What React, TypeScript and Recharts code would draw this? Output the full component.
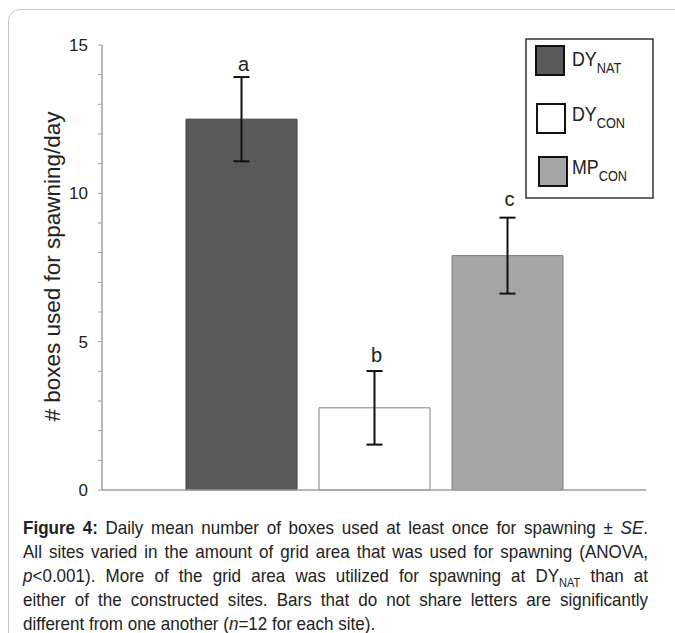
import React from "react";
import { BarChart, Bar, XAxis, YAxis, ErrorBar, LabelList, Legend, Label } from "recharts";

const siteMain = ["DY", "DY", "MP"];
const siteSub = ["NAT", "CON", "CON"];
const means = [12.5, 2.77, 7.9];
const ses = [1.42, 1.24, 1.28];
const letters = ["a", "b", "c"];
const yTicks = [0, 1, 2, 3, 4, 5, 6, 7, 8, 9, 10, 11, 12, 13, 14, 15];
const fills = ["#595959", "#ffffff", "#a6a6a6"];
const strokes = ["#404040", "#808080", "#7a7a7a"];

const row: Record<string, any> = { name: "sites" };
means.forEach((m, i) => {
  row["v" + i] = m;
  row["e" + i] = ses[i];
  row["l" + i] = letters[i];
});
const data = [row];

const FONT = "'Liberation Sans', Arial, sans-serif";

const letterGap = [6, 9, 12];

const renderLetter = (i: number) => (p: any) => {
  const { x, y, width, height, value } = p;
  const pxPerUnit = height / means[i];
  const top = y - ses[i] * pxPerUnit;
  return (
    <text x={x + width / 2 + 2} y={top - letterGap[i]} textAnchor="middle" fontSize={20} fontFamily={FONT} fill="#222">
      {value}
    </text>
  );
};

const swatchY = [8, 66, 119];
const swatchX = [11, 12, 14];
const textY = [28, 83, 136];

const LegendBox = (props: any) => {
  const payload = props.payload || [];
  return (
    <svg width={130} height={162} style={{ display: "block" }}>
      <rect x={1} y={1} width={127} height={159} fill="#fff" stroke="#333" strokeWidth={1.5} />
      {payload.map((entry: any, i: number) => (
        <g key={i}>
          <rect x={swatchX[i]} y={swatchY[i]} width={28} height={29} fill={fills[i]} stroke="#111" strokeWidth={2} />
          <text
            x={47}
            y={textY[i]}
            fontFamily={FONT}
            fill="#222"
            transform={`translate(47 0) scale(0.85 1) translate(-47 0)`}
          >
            <tspan fontSize={21}>{siteMain[i]}</tspan>
            <tspan fontSize={15} dy={7}>{siteSub[i]}</tspan>
          </text>
        </g>
      ))}
    </svg>
  );
};

const YLabel = (props: any) => {
  const vb = props.viewBox || { x: 0, y: 0, width: 0, height: 0 };
  const cx = 52;
  const cy = vb.y + vb.height / 2 - 1;
  return (
    <text
      x={cx}
      y={cy}
      transform={`rotate(-90, ${cx}, ${cy})`}
      textAnchor="middle"
      dominantBaseline="central"
      fontSize={22.5}
      fontFamily={FONT}
      fill="#222"
    >
      # boxes used for spawning/day
    </text>
  );
};

const SCALE = 0.92;
const lineStyle: React.CSSProperties = {
  textAlign: "justify",
  textAlignLast: "justify",
  whiteSpace: "nowrap",
  height: 24,
  lineHeight: "24px",
};

export default function App() {
  return (
    <div style={{ position: "absolute", left: 0, top: 0, width: 675, height: 633, overflow: "hidden", background: "#fff" }}>
      <div
        style={{
          position: "absolute",
          left: 8,
          top: 9,
          width: 720,
          height: 720,
          border: "1px solid #c4c4c4",
          borderRadius: 12,
          boxSizing: "border-box",
        }}
      />
      <div style={{ position: "absolute", left: 0, top: 0 }}>
        <BarChart
          width={675}
          height={500}
          data={data}
          margin={{ top: 45, right: 29, bottom: 0, left: 50 }}
          barSize={111}
          barGap={22}
        >
          <XAxis dataKey="name" tick={false} tickLine={false} axisLine={{ stroke: "#a0a0a0", strokeWidth: 1.5 }} height={10} />
          <YAxis
            domain={[0, 15]}
            ticks={yTicks}
            interval={0}
            width={52}
            tickSize={4}
            tickMargin={10}
            tickLine={{ stroke: "#a0a0a0" }}
            axisLine={{ stroke: "#a0a0a0", strokeWidth: 1.5 }}
            tickFormatter={(v: number) => (v % 5 === 0 ? String(v) : "")}
            tick={{ fontSize: 17, fontFamily: FONT, fill: "#222" }}
          >
            <Label content={<YLabel />} />
          </YAxis>
          <Legend
            layout="vertical"
            align="center"
            verticalAlign="middle"
            content={<LegendBox />}
            wrapperStyle={{ left: 525, top: 38, width: 130, height: 162 }}
          />
          {means.map((_, i) => (
            <Bar
              key={i}
              dataKey={"v" + i}
              name={siteMain[i] + siteSub[i]}
              fill={fills[i]}
              stroke={strokes[i]}
              strokeWidth={1}
              isAnimationActive={false}
            >
              <ErrorBar dataKey={"e" + i} width={8} strokeWidth={2} stroke="#111" direction="y" />
              <LabelList dataKey={"l" + i} content={renderLetter(i)} />
            </Bar>
          ))}
        </BarChart>
      </div>
      <div
        style={{
          position: "absolute",
          left: 23,
          top: 516,
          width: 625 / SCALE,
          transform: `scaleX(${SCALE})`,
          transformOrigin: "0 0",
          fontFamily: FONT,
          fontSize: 18.5,
          color: "#222",
        }}
      >
        <div style={lineStyle}>
          <b>Figure 4:</b> Daily mean number of boxes used at least once for spawning ± <i>SE</i>.
        </div>
        <div style={lineStyle}>All sites varied in the amount of grid area that was used for spawning (ANOVA,</div>
        <div style={lineStyle}>
          <i>p</i>&lt;0.001). More of the grid area was utilized for spawning at DY
          <sub style={{ fontSize: 12, lineHeight: 0 }}>NAT</sub> than at
        </div>
        <div style={lineStyle}>either of the constructed sites. Bars that do not share letters are significantly</div>
        <div style={{ ...lineStyle, textAlignLast: "left", textAlign: "left" }}>
          different from one another (<i>n</i>=12 for each site).
        </div>
      </div>
    </div>
  );
}
